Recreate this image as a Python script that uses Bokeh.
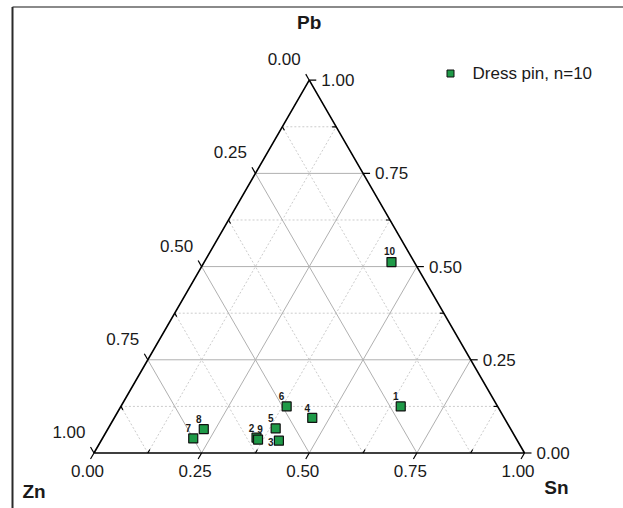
import math
from bokeh.plotting import figure
from bokeh.models import Range1d, ColumnDataSource
from bokeh.core.properties import value
from bokeh.embed import file_html
from bokeh.resources import INLINE

# ---- data (fractions) ----
sample_ids = ["1", "2", "3", "4", "5", "6", "7", "8", "9", "10"]
sn = [0.650, 0.357, 0.413, 0.460, 0.389, 0.385, 0.211, 0.223, 0.363, 0.435]
pb = [0.125, 0.041, 0.033, 0.094, 0.066, 0.125, 0.039, 0.064, 0.036, 0.512]
zn = [0.225, 0.602, 0.554, 0.446, 0.545, 0.490, 0.750, 0.713, 0.601, 0.053]
series_name = "Dress pin, n=10"
major_ticks = [0.0, 0.25, 0.5, 0.75, 1.0]
minor_ticks = [0.125, 0.375, 0.625, 0.875]
tick_labels = ["0.00", "0.25", "0.50", "0.75", "1.00"]

# ---- layout ----
W, H = 623, 508
SIDE = 430.5          # triangle side in px
X0, Y0 = 93.5, 452.5  # bottom-left vertex in px
h = math.sqrt(3) / 2
FONT = value("Liberation Sans")

p = figure(width=W, height=H, output_backend="svg", toolbar_location=None,
           x_range=Range1d(-X0 / SIDE, (W - X0) / SIDE),
           y_range=Range1d(-(H - Y0) / SIDE, Y0 / SIDE),
           min_border=0)
p.axis.visible = False
p.grid.visible = False
p.outline_line_color = None
p.background_fill_color = "white"
p.border_fill_color = "white"

def px2d(px, py):
    return (px - X0) / SIDE, (Y0 - py) / SIDE

# frame (top + left lines of the boxed picture)
fx, fy = px2d(12, 6.5)
xr, yb = px2d(W + 5, H + 5)
p.segment(x0=[fx], y0=[fy], x1=[xr], y1=[fy], line_color="#8a8a8a", line_width=2)
p.segment(x0=[fx], y0=[fy], x1=[fx], y1=[yb], line_color="#2a2a2a", line_width=2)

# grid
def grid_lines(vals):
    x0s, y0s, x1s, y1s = [], [], [], []
    for v in vals:
        # constant Pb
        x0s.append(v / 2); y0s.append(v * h); x1s.append(1 - v / 2); y1s.append(v * h)
        # constant Sn
        x0s.append(v); y0s.append(0); x1s.append(v + (1 - v) / 2); y1s.append((1 - v) * h)
        # constant Zn
        x0s.append(1 - v); y0s.append(0); x1s.append((1 - v) / 2); y1s.append((1 - v) * h)
    return x0s, y0s, x1s, y1s

gx0, gy0, gx1, gy1 = grid_lines(minor_ticks)
p.segment(x0=gx0, y0=gy0, x1=gx1, y1=gy1, line_color="#cccccc", line_width=1, line_dash="2 2")
gx0, gy0, gx1, gy1 = grid_lines(major_ticks[1:-1])
p.segment(x0=gx0, y0=gy0, x1=gx1, y1=gy1, line_color="#b0b0b0", line_width=1)

# triangle
p.line(x=[0, 1, 0.5, 0], y=[0, 0, h, 0], line_color="black", line_width=1.6)

# ticks
LM = 7 / SIDE
Lm = 4 / SIDE
tx0, ty0, tx1, ty1 = [], [], [], []
def add_ticks(vals, L, sign):
    for v in vals:
        # bottom (Sn)
        bx, by = v, 0.0
        tx0.append(bx); ty0.append(by); tx1.append(bx - sign * 0.5 * L); ty1.append(by - sign * h * L)
        # right (Pb)
        rx, ry = 1 - v / 2, v * h
        tx0.append(rx); ty0.append(ry); tx1.append(rx + sign * L); ty1.append(ry)
        # left (Zn)
        lx, ly = (1 - v) / 2, (1 - v) * h
        tx0.append(lx); ty0.append(ly); tx1.append(lx - sign * 0.5 * L); ty1.append(ly + sign * h * L)
add_ticks(major_ticks, LM, 1)
add_ticks(minor_ticks, Lm, -1)
p.segment(x0=tx0, y0=ty0, x1=tx1, y1=ty1, line_color="black", line_width=1.2)

# tick labels
bx = [v - 0.5 * LM for v in major_ticks]
by = [-h * LM for v in major_ticks]
p.text(x=bx, y=by, text=tick_labels, x_offset=-3, y_offset=6, text_align="center",
       text_baseline="top", text_font=FONT, text_font_size="17px", text_color="#1a1a1a")
rx = [1 - v / 2 + LM for v in major_ticks]
ry = [v * h for v in major_ticks]
p.text(x=rx, y=ry, text=tick_labels, x_offset=5, y_offset=0, text_align="left",
       text_baseline="middle", text_font=FONT, text_font_size="17px", text_color="#1a1a1a")
lx = [(1 - v) / 2 - 0.5 * LM for v in major_ticks]
ly = [(1 - v) * h + h * LM for v in major_ticks]
p.text(x=lx, y=ly, text=tick_labels, x_offset=-5, y_offset=-15, text_align="right",
       text_baseline="middle", text_font=FONT, text_font_size="17px", text_color="#1a1a1a")

# axis titles
p.text(x=[0.5], y=[h], text=["Pb"], y_offset=-58, text_align="center", text_baseline="middle",
       text_font=FONT, text_font_size="19px", text_font_style="bold", text_color="#1a1a1a")
p.text(x=[0], y=[0], text=["Zn"], x_offset=-60, y_offset=38, text_align="center", text_baseline="middle",
       text_font=FONT, text_font_size="19px", text_font_style="bold", text_color="#1a1a1a")
p.text(x=[1], y=[0], text=["Sn"], x_offset=32, y_offset=34, text_align="center", text_baseline="middle",
       text_font=FONT, text_font_size="19px", text_font_style="bold", text_color="#1a1a1a")

# data points
xs = [s + b / 2 for s, b in zip(sn, pb)]
ys = [b * h for b in pb]
lab_dx = {"3": -8, "9": 2, "10": -2}
lab_dy = {"3": 1, "9": -11, "10": -11}
src = ColumnDataSource(dict(x=xs, y=ys, id=sample_ids,
                            dx=[lab_dx.get(i, -5) for i in sample_ids],
                            dy=[lab_dy.get(i, -10) for i in sample_ids]))
p.scatter(x="x", y="y", source=src, marker="square", size=9, fill_color="#1f9a48",
          line_color="#111111", line_width=1.2)
p.text(x="x", y="y", text="id", source=src, x_offset="dx", y_offset="dy",
       text_align="center", text_baseline="middle", text_font=FONT, text_font_size="10px",
       text_font_style="bold", text_color="#1a1a1a")

# legend (drawn manually)
lgx, lgy = px2d(450, 73)
p.scatter(x=[lgx], y=[lgy], marker="square", size=7, fill_color="#1f9a48",
          line_color="#111111", line_width=1)
p.text(x=[lgx], y=[lgy], text=[series_name], x_offset=22, text_align="left", text_baseline="middle",
       text_font=FONT, text_font_size="17px", text_color="#1a1a1a")

open("out.html", "w").write(file_html(p, INLINE))
